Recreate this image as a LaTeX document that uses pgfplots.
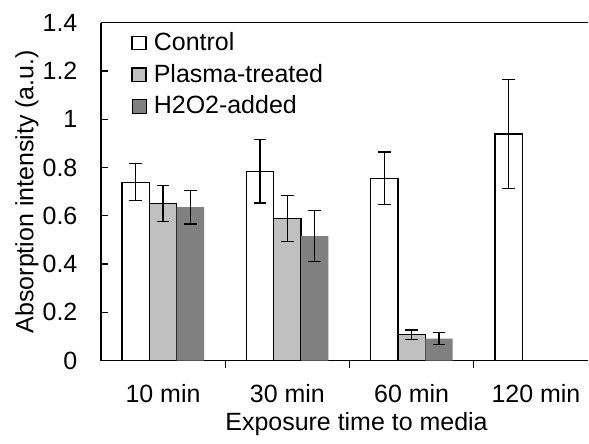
\documentclass[border=0pt]{standalone}
\usepackage{pgfplots}
\pgfplotsset{compat=1.18}
\usepackage{fontspec}
\setmainfont{Liberation Sans}

\definecolor{plasmagray}{HTML}{C0C0C0}
\definecolor{htwogray}{HTML}{808080}

\newcommand{\chartfont}{\fontsize{12.5}{14.7}\selectfont}

\begin{document}
\chartfont
\begin{tikzpicture}
\begin{axis}[
  scale only axis,
  width=244pt, height=169.2pt,
  xmin=-0.5, xmax=3.42,
  ymin=0, ymax=1.4,
  axis x line*=bottom, axis y line*=left,
  axis line style={line width=0.8pt},
  tick align=inside,
  ytick={0,0.2,...,1.4},
  yticklabels={0,0.2,0.4,0.6,0.8,1,1.2,1.4},
  major tick length=3.5pt,
  minor tick length=3.5pt,
  tick style={black, line width=0.6pt},
  xtick={0,1,2,3},
  xticklabels={10 min,30 min,60 min,120 min},
  major x tick style={draw=none},
  minor xtick={0.5,1.5,2.5},
  yticklabel style={xshift=-7.4pt},
  xticklabel style={yshift=-4pt},
  /pgf/number format/assume math mode=true,
  tick label style={font=\chartfont},
  label style={font=\chartfont},
  xlabel={Exposure time to media},
  ylabel={Absorption intensity (a.u.)},
  xlabel style={yshift=3.8pt, xshift=6pt},
  ylabel style={yshift=-6.5pt},
  ybar=0pt,
  bar width=13.7pt,
  clip=false,
  legend cell align=left,
  legend style={draw=none, fill=none, at={(axis description cs:0.062,0.985)},
    anchor=north west, row sep=1pt, inner sep=0pt,
    font=\chartfont},
  legend image code/.code={\draw[#1,/tikz/.cd] (0pt,-3.4pt) rectangle (7pt,3.4pt);
    \path (8.6pt,0pt);},
  error bars/y dir=both, error bars/y explicit,
  error bars/error bar style={black, line width=0.6pt},
  error bars/error mark options={rotate=90, black, mark size=3.2pt, line width=0.6pt},
]
\addplot[draw=black, line width=0.6pt, fill=white] coordinates {
  (0,0.739) +- (0,0.077)
  (1,0.784) +- (0,0.131)
  (2,0.756) +- (0,0.108)
  (3,0.939) +- (0,0.226)
};
\addlegendentry{Control}
\addplot[draw=black, line width=0.6pt, fill=plasmagray] coordinates {
  (0,0.651) +- (0,0.074)
  (1,0.588) +- (0,0.096)
  (2,0.108) +- (0,0.019)
};
\addlegendentry{Plasma-treated}
\addplot[draw=none, fill=htwogray] coordinates {
  (0,0.636) +- (0,0.070)
  (1,0.516) +- (0,0.105)
  (2,0.091) +- (0,0.024)
};
\addlegendentry{H2O2-added}
\draw[line width=0.8pt] (rel axis cs:0,1) -- (rel axis cs:1,1);
\path (rel axis cs:0,0) ++(-50.5pt,-34.5pt) coordinate (bbsw);
\path (rel axis cs:1,1) ++(0pt,11.35pt) coordinate (bbne);
\end{axis}
\useasboundingbox (bbsw) rectangle (bbne);
\end{tikzpicture}
\end{document}
